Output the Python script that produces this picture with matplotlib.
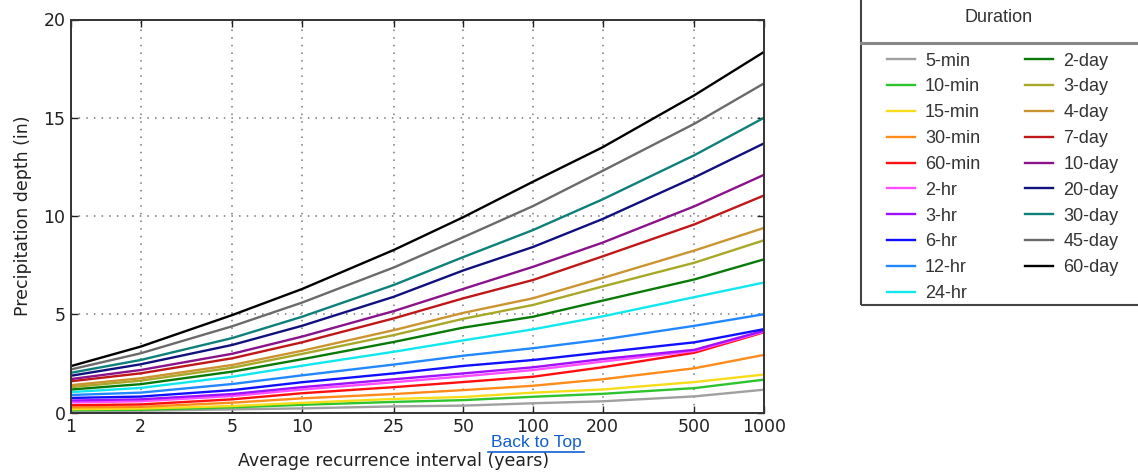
import matplotlib
matplotlib.use("Agg")
import matplotlib.pyplot as plt
from matplotlib.lines import Line2D
from matplotlib.patches import Rectangle

# average recurrence interval (years)
intervals = [1, 2, 5, 10, 25, 50, 100, 200, 500, 1000]
tick_labels = ["1", "2", "5", "10", "25", "50", "100", "200", "500", "1000"]

durations = ["5-min", "10-min", "15-min", "30-min", "60-min", "2-hr", "3-hr",
             "6-hr", "12-hr", "24-hr", "2-day", "3-day", "4-day", "7-day",
             "10-day", "20-day", "30-day", "45-day", "60-day"]

# precipitation depth (in), one list per duration
d_5min = [0.08, 0.10, 0.17, 0.22, 0.32, 0.36, 0.48, 0.58, 0.83, 1.17]
d_10min = [0.13, 0.15, 0.27, 0.40, 0.55, 0.64, 0.81, 0.96, 1.25, 1.68]
d_15min = [0.18, 0.21, 0.34, 0.50, 0.70, 0.80, 1.02, 1.18, 1.56, 1.94]
d_30min = [0.27, 0.30, 0.51, 0.73, 0.95, 1.15, 1.37, 1.70, 2.26, 2.94]
d_60min = [0.38, 0.42, 0.68, 0.99, 1.30, 1.56, 1.83, 2.31, 3.05, 4.09]
d_2hr = [0.52, 0.58, 0.85, 1.18, 1.55, 1.85, 2.17, 2.60, 3.14, 4.12]
d_3hr = [0.62, 0.68, 0.95, 1.30, 1.70, 2.00, 2.31, 2.73, 3.20, 4.17]
d_6hr = [0.75, 0.82, 1.15, 1.55, 2.00, 2.38, 2.68, 3.07, 3.58, 4.25]
d_12hr = [0.90, 1.02, 1.46, 1.90, 2.45, 2.90, 3.28, 3.72, 4.42, 5.01]
d_24hr = [1.05, 1.26, 1.83, 2.39, 3.10, 3.68, 4.24, 4.90, 5.88, 6.62]
d_2day = [1.18, 1.45, 2.09, 2.72, 3.60, 4.33, 4.88, 5.70, 6.78, 7.80]
d_3day = [1.30, 1.63, 2.29, 2.99, 3.95, 4.78, 5.48, 6.42, 7.63, 8.77]
d_4day = [1.40, 1.75, 2.43, 3.15, 4.20, 5.08, 5.82, 6.85, 8.25, 9.40]
d_7day = [1.60, 2.00, 2.77, 3.58, 4.80, 5.82, 6.75, 7.95, 9.58, 11.05]
d_10day = [1.71, 2.17, 3.00, 3.87, 5.17, 6.30, 7.42, 8.65, 10.50, 12.10]
d_20day = [1.88, 2.46, 3.45, 4.42, 5.90, 7.24, 8.43, 9.85, 11.97, 13.70]
d_30day = [2.03, 2.68, 3.80, 4.88, 6.50, 7.92, 9.29, 10.85, 13.10, 15.00]
d_45day = [2.20, 3.02, 4.40, 5.60, 7.39, 8.93, 10.51, 12.30, 14.70, 16.75]
d_60day = [2.37, 3.36, 4.97, 6.29, 8.28, 9.95, 11.75, 13.50, 16.15, 18.35]

series = [d_5min, d_10min, d_15min, d_30min, d_60min, d_2hr, d_3hr, d_6hr,
          d_12hr, d_24hr, d_2day, d_3day, d_4day, d_7day, d_10day, d_20day,
          d_30day, d_45day, d_60day]

colors = ["#a0a0a0", "#2ec42e", "#f7dc1a", "#ff8c1a", "#ff1010", "#ff4dff",
          "#a010ff", "#1010ff", "#2288ff", "#10e8ee", "#087a08", "#a8a828",
          "#cc9430", "#c01818", "#8a128a", "#10107e", "#0e807a", "#6a6a6a",
          "#000000"]

W, H = 1138, 474
fig = plt.figure(figsize=(W / 100, H / 100), dpi=100)
ax = fig.add_axes([71 / W, 1 - 412.7 / H, (764 - 71) / W, (412.7 - 19.5) / H])

for name, vals, col in zip(durations, series, colors):
    ax.plot(intervals, vals, color=col, lw=1.7, label=name)

ax.set_xscale("log")
ax.set_xlim(1, 1000)
ax.set_ylim(0, 20)
ax.set_xticks(intervals)
ax.set_xticklabels(tick_labels)
ax.minorticks_off()
ax.set_yticks([0, 5, 10, 15, 20])
ax.tick_params(direction="in", top=True, right=True, length=5, width=1,
               labelsize=12.5, colors="#222222", pad=4)
ax.grid(True, ls=(0, (1, 4)), color="#777777", lw=1.1)
for s in ax.spines.values():
    s.set_linewidth(1.4)
    s.set_color("#333333")
ax.set_xlabel("Average recurrence interval (years)", fontsize=12.5, color="#222222", labelpad=11)
ax.xaxis.label.set_x(0.465)
ax.set_ylabel("Precipitation depth (in)", fontsize=12.5, color="#222222", labelpad=8)

# legend box
fig.patches.append(Rectangle((861 / W, 1 - 305 / H), 0.3, 0.7, transform=fig.transFigure,
                             fill=False, ec="#444444", lw=1.5, clip_on=False))
fig.lines.append(Line2D([861 / W, 1.0], [1 - 43 / H, 1 - 43 / H], transform=fig.transFigure,
                        color="#888888", lw=2.2))
fig.text(999 / W, 1 - 17 / H, "Duration", ha="center", va="center",
         fontsize=13, family="Liberation Sans", color="#333333")
handles, labels = ax.get_legend_handles_labels()
fig.legend(handles, labels, loc="upper left", bbox_to_anchor=(887 / W, 1 - 52.5 / H),
           ncol=2, frameon=False, borderpad=0, borderaxespad=0, handlelength=1.55,
           handletextpad=0.55, columnspacing=2.5, labelspacing=0.49,
           prop={"family": "Liberation Sans", "size": 13}, labelcolor="#333333")

# link text below the axis
fig.text(536 / W, 1 - 443 / H, "Back to Top", ha="center", va="center",
         fontsize=12.5, family="Liberation Sans", color="#1060d0")
fig.lines.append(Line2D([488 / W, 584 / W], [1 - 452 / H, 1 - 452 / H],
                        transform=fig.transFigure, color="#1060d0", lw=1.2))

fig.savefig("out.png", dpi=100)
